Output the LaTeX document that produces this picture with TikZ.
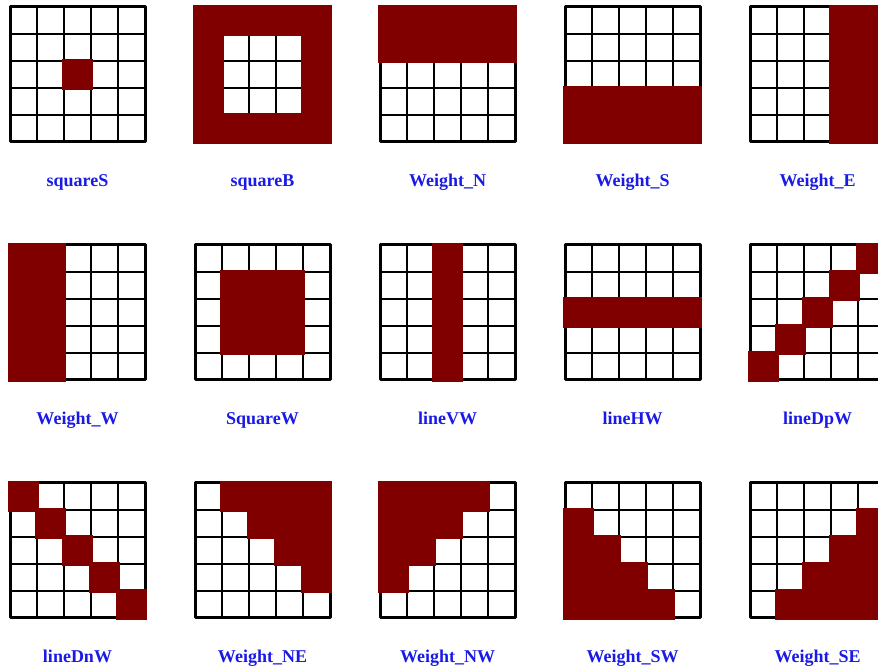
\documentclass[tikz,border=0pt]{standalone}
\usepackage{fontspec}
\setmainfont{Liberation Serif}
\usetikzlibrary{positioning}
\definecolor{cellred}{RGB}{128,0,0}
\definecolor{lblblue}{RGB}{26,26,230}

\begin{document}
\begin{tikzpicture}[x=1pt,y=1pt,
  inner/.style={line width=1.8pt},
  outer/.style={line width=3pt, line join=round},
  hitcell/.style={fill=cellred},
  lbl/.style={font=\bfseries\fontsize{18}{20}\selectfont, text=lblblue, inner sep=0pt, anchor=base}
]
\clip (0,0) rectangle (878,668);
\foreach \i/\j/\txt/\cond in {
  0/0/squareS/{(\row==2)&&(\col==2)},
  1/0/squareB/{(\row==0)||(\row==4)||(\col==0)||(\col==4)},
  2/0/Weight\_N/{\row<2},
  3/0/Weight\_S/{\row>2},
  4/0/Weight\_E/{\col>2},
  0/1/Weight\_W/{\col<2},
  1/1/SquareW/{(\row>0)&&(\row<4)&&(\col>0)&&(\col<4)},
  2/1/lineVW/{\col==2},
  3/1/lineHW/{\row==2},
  4/1/lineDpW/{\row+\col==4},
  0/2/lineDnW/{\row==\col},
  1/2/Weight\_NE/{\col>\row},
  2/2/Weight\_NW/{\row+\col<4},
  3/2/Weight\_SW/{\row>\col},
  4/2/Weight\_SE/{\row+\col>4}} {
  \pgfmathsetmacro\gx{10+185*\i}
  \pgfmathsetmacro\gy{526-238*\j}
  \begin{scope}[shift={(\gx,\gy)}]
    \foreach \k in {1,...,4}
      \draw[inner] (27*\k,0) -- (27*\k,135) (0,27*\k) -- (135,27*\k);
    \draw[outer] (0,0) rectangle (135,135);
    \foreach \row in {0,...,4}
      \foreach \col in {0,...,4} {
        \pgfmathtruncatemacro\hit{(\cond) ? 1 : 0}
        \ifnum\hit=1
          \fill[hitcell] (27*\col-1.6,108-27*\row-1.6) rectangle (27*\col+28.6,135-27*\row+1.6);
        \fi
      }
    \node[lbl] (lbl-\i-\j) at (67.5,-45) {\txt};
  \end{scope}
}
\end{tikzpicture}
\end{document}
